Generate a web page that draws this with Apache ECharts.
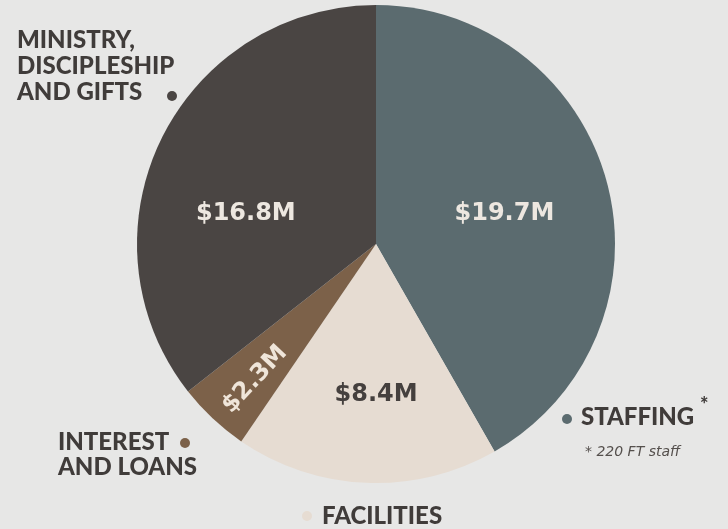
<!DOCTYPE html>
<html>
<head>
<meta charset="utf-8">
<script src="https://cdn.jsdelivr.net/npm/echarts@6/dist/echarts.min.js"></script>
<style>
  html, body { margin: 0; padding: 0; background: #e7e7e6; }
  #chart { width: 728px; height: 529px; }
</style>
</head>
<body>
<div id="chart"></div>
<script>
const categories = ['STAFFING', 'FACILITIES', 'INTEREST AND LOANS', 'MINISTRY, DISCIPLESHIP AND GIFTS']
const amounts = [19.7, 8.4, 2.3, 16.8]
const valueLabels = ['$19.7M', '$8.4M', '$2.3M', '$16.8M']
const colors = ['#5b6b6f', '#e6dcd2', '#7c6149', '#4a4543']
const labelColors = ['#ede7e0', '#45403e', '#efe5d9', '#ede7e0']
const footnote = '* 220 FT staff'

// shifts from the default inside position, per slice (label's own frame)
const nudges = [[10, 1], [5, 28], [-59, 4], [-20, 23]]

const font = 'Lato, "Open Sans", sans-serif'
const valueFont = '"DejaVu Sans", Lato, sans-serif'
const chart = echarts.init(document.getElementById('chart'))

function dot(x, y, color) {
  return { type: 'circle', shape: { cx: x, cy: y, r: 5 }, style: { fill: color } }
}
function text(x, y, str, opts) {
  return {
    type: 'text', x, y,
    style: Object.assign({ text: str, font: `900 24px ${font}`, fill: '#403c3a', lineHeight: 26 }, opts)
  }
}

chart.setOption({
  backgroundColor: '#e7e7e6',
  animation: false,
  series: [{
    type: 'pie',
    center: [376, 244],
    radius: [0, 239],
    startAngle: 90,
    clockwise: true,
    silent: true,
    itemStyle: { borderWidth: 0 },
    labelLine: { show: false },
    data: categories.map((name, i) => ({
      name,
      value: amounts[i],
      itemStyle: { color: colors[i] },
      label: {
        show: true,
        position: 'inside',
        formatter: valueLabels[i],
        color: labelColors[i],
        fontFamily: valueFont,
        fontWeight: 'bold',
        fontSize: 24,
        offset: nudges[i],
        rotate: i === 2 ? 47 : 0
      }
    }))
  }],
  graphic: [
    text(17, 27, 'MINISTRY,\nDISCIPLESHIP\nAND GIFTS'),
    dot(172, 96, colors[3]),
    dot(567, 419, colors[0]),
    text(581, 404, 'STAFFING', {}),
    text(700, 393, '*', { font: `900 20px ${font}` }),
    text(585, 439, footnote, { font: `oblique 14px "DejaVu Sans", sans-serif`, fill: '#55504d' }),
    text(58, 430, 'INTEREST\nAND LOANS', { lineHeight: 25 }),
    dot(185, 443, colors[2]),
    text(322, 503, 'FACILITIES', {}),
    dot(307, 516, colors[1])
  ]
})
</script>
</body>
</html>
